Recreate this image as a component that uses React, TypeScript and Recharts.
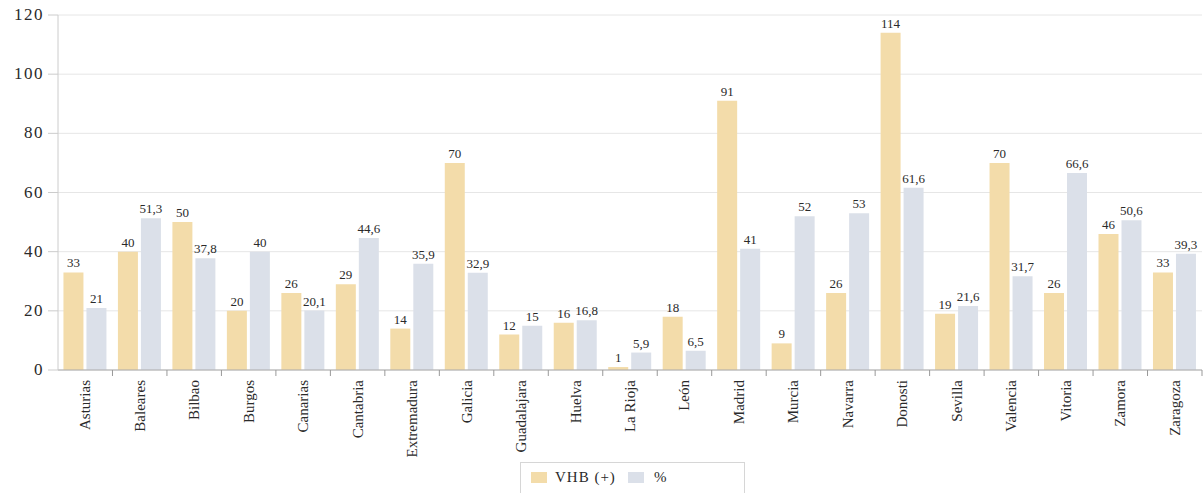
import { BarChart, Bar, XAxis, YAxis, CartesianGrid, LabelList } from 'recharts'

const cities = [
  'Asturias', 'Baleares', 'Bilbao', 'Burgos', 'Canarias', 'Cantabria', 'Extremadura',
  'Galicia', 'Guadalajara', 'Huelva', 'La Rioja', 'León', 'Madrid', 'Murcia', 'Navarra',
  'Donosti', 'Sevilla', 'Valencia', 'Vitoria', 'Zamora', 'Zaragoza',
]
const vhb = [33, 40, 50, 20, 26, 29, 14, 70, 12, 16, 1, 18, 91, 9, 26, 114, 19, 70, 26, 46, 33]
const pct = [21, 51.3, 37.8, 40, 20.1, 44.6, 35.9, 32.9, 15, 16.8, 5.9, 6.5, 41, 52, 53, 61.6, 21.6, 31.7, 66.6, 50.6, 39.3]
const yTicks = [0, 20, 40, 60, 80, 100, 120]

const data = cities.map((c, i) => ({ city: c, vhb: vhb[i], pct: pct[i] }))

const YELLOW = '#f3dcaa'
const GREY = '#dbe0e9'
const FONT = "'Liberation Serif', 'DejaVu Serif', serif"
const TEXT = '#2a2a2a'

const W = 1204
const H = 493
const LEFT = 58
const RIGHT = 2
const BAND = (W - LEFT - RIGHT) / cities.length

const fmt = (v: number) => String(v).replace('.', ',')

function CityTick({ x, y, payload }: any) {
  return (
    <g>
      <line x1={x + BAND / 2} y1={y - 8} x2={x + BAND / 2} y2={y - 2} stroke="#999" />
      <text
        transform={`translate(${x + 5},${y + 2}) rotate(-90)`}
        textAnchor="end"
        style={{ fontFamily: FONT, fontSize: 15, fill: TEXT }}
      >
        {payload.value}
      </text>
    </g>
  )
}

function ValueTick({ x, y, payload }: any) {
  return (
    <text
      x={x - 2}
      y={y + 5}
      textAnchor="end"
      style={{ fontFamily: FONT, fontSize: 17, fill: TEXT, letterSpacing: 1.5 }}
    >
      {payload.value}
    </text>
  )
}

function Legend() {
  return (
    <div
      style={{
        position: 'absolute',
        left: 520,
        top: 462,
        width: 225,
        height: 40,
        border: '1px solid #d6d6d6',
        borderBottom: 'none',
        fontFamily: FONT,
        fontSize: 15,
        color: TEXT,
        display: 'flex',
        alignItems: 'flex-start',
        paddingTop: 6,
        boxSizing: 'border-box',
      }}
    >
      <span style={{ width: 16, height: 11, background: YELLOW, marginLeft: 10, marginTop: 3 }} />
      <span style={{ marginLeft: 8, letterSpacing: 1, fontFamily: FONT }}>VHB (+)</span>
      <span style={{ width: 16, height: 11, background: GREY, marginLeft: 12, marginTop: 3 }} />
      <span style={{ marginLeft: 10, fontFamily: FONT }}>%</span>
    </div>
  )
}

export default function App() {
  return (
    <div style={{ position: 'absolute', left: 0, top: 0, width: W, height: H, background: '#fff' }}>
      <BarChart
        width={W}
        height={H}
        data={data}
        margin={{ top: 15, right: RIGHT, bottom: 40, left: 8 }}
        barCategoryGap="10%"
        barGap={3}
      >
        <CartesianGrid vertical={false} stroke="#e6e6e6" />
        <XAxis
          dataKey="city"
          interval={0}
          height={83}
          stroke="#aaa"
          tickLine={false}
          tick={<CityTick />}
        />
        <YAxis
          domain={[0, 120]}
          ticks={yTicks}
          width={50}
          stroke="#ccc"
          tickSize={10}
          tick={<ValueTick />}
        />
        <Bar dataKey="vhb" fill={YELLOW} isAnimationActive={false}>
          <LabelList dataKey="vhb" position="top" formatter={fmt} style={{ fontFamily: FONT, fontSize: 13, fill: TEXT }} />
        </Bar>
        <Bar dataKey="pct" fill={GREY} isAnimationActive={false}>
          <LabelList dataKey="pct" position="top" formatter={fmt} style={{ fontFamily: FONT, fontSize: 13, fill: TEXT }} />
        </Bar>
      </BarChart>
      <Legend />
    </div>
  )
}
